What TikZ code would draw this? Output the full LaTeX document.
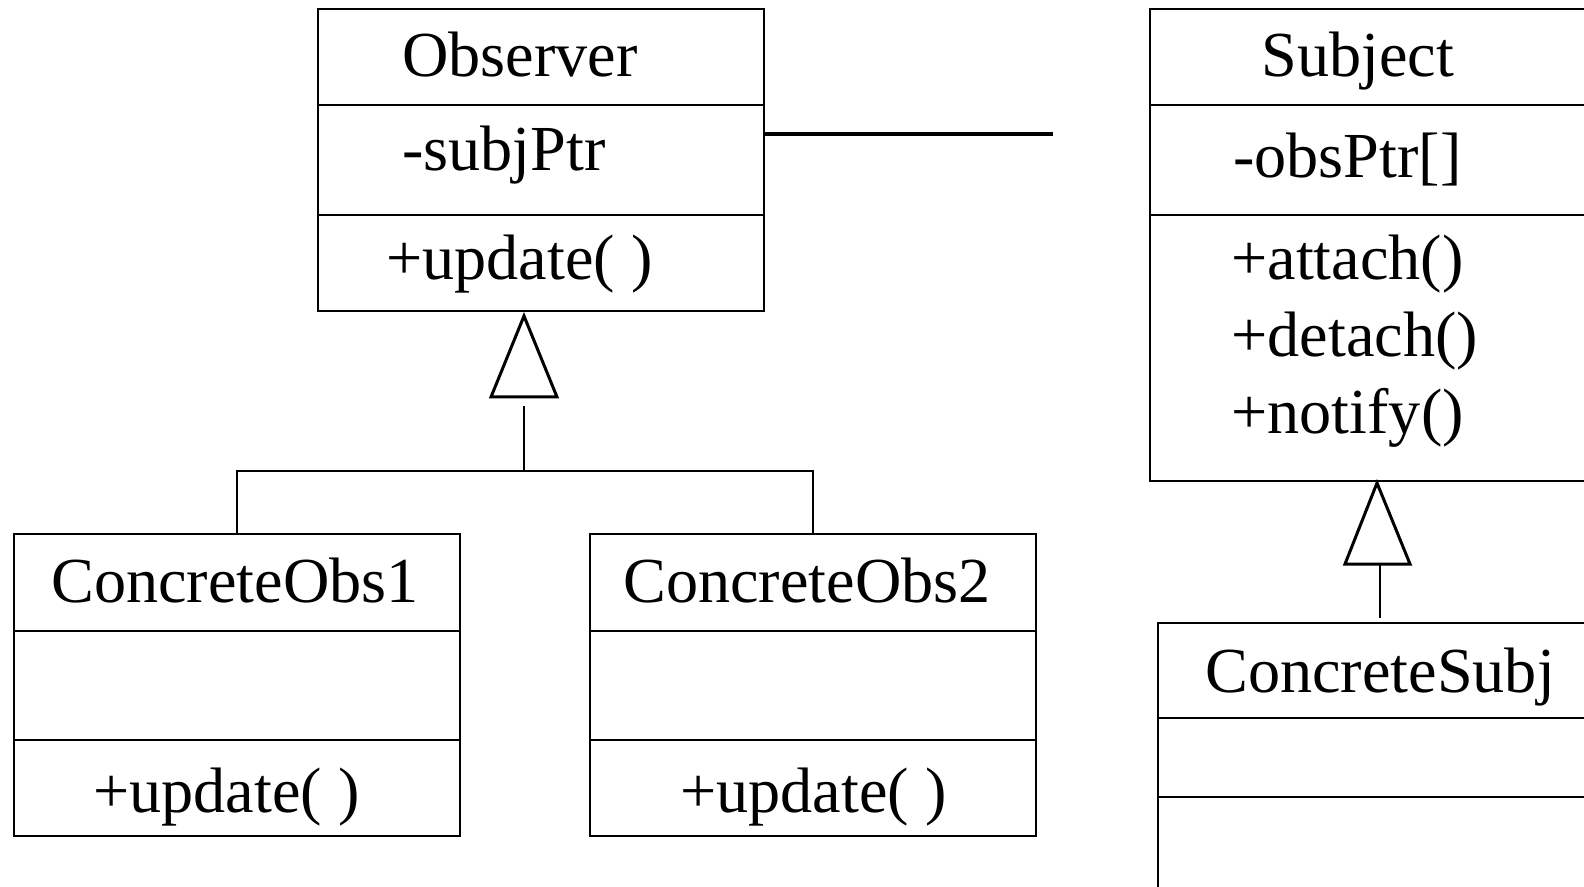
\documentclass[tikz,border=0pt]{standalone}
\usepackage{fontspec}
\setmainfont{Liberation Serif}
\usetikzlibrary{fit}
\tikzset{
  x=0.5pt, y=-0.5pt,
  umlbox/.style={draw, line width=1.4pt, inner sep=0pt},
  divider/.style={line width=1.4pt},
  umltext/.style={anchor=base west, inner sep=0pt, font=\fontsize{32.1}{38}\selectfont},
  link/.style={line width=1.4pt},
  assoc/.style={line width=1.7pt},
  openhead/.style={line width=1.5pt, line join=miter},
}
\begin{document}
\begin{tikzpicture}
\useasboundingbox (0,0) rectangle (1584,887);
\clip (0,0) rectangle (1584,887);

% Observer class
\node[umlbox, fit={(318,9) (764,311)}] (observer) {};
\draw[divider] (318,105) -- (764,105);
\draw[divider] (318,215) -- (764,215);
\node[umltext] (obsTitle) at (402,77) {Observer};
\node[umltext] (obsAttr) at (402,171) {-subjPtr};
\node[umltext] (obsOp) at (386,280) {+update( )};

% ConcreteObs1 class
\node[umlbox, fit={(14,534) (460,836)}] (cobs1) {};
\draw[divider] (14,631) -- (460,631);
\draw[divider] (14,740) -- (460,740);
\node[umltext] (cobs1Title) at (51,602) {ConcreteObs1};
\node[umltext] (cobs1Op) at (93,812) {+update( )};

% ConcreteObs2 class
\node[umlbox, fit={(590,534) (1036,836)}] (cobs2) {};
\draw[divider] (590,631) -- (1036,631);
\draw[divider] (590,740) -- (1036,740);
\node[umltext] (cobs2Title) at (623,602) {ConcreteObs2};
\node[umltext] (cobs2Op) at (680,812) {+update( )};

% Subject class
\node[umlbox, fit={(1150,9) (1610,481)}] (subject) {};
\draw[divider] (1150,105) -- (1610,105);
\draw[divider] (1150,215) -- (1610,215);
\node[umltext] (subjTitle) at (1261,77) {Subject};
\node[umltext] (subjAttr) at (1233,178) {-obsPtr[]};
\node[umltext] (subjOp1) at (1231,280) {+attach()};
\node[umltext] (subjOp2) at (1231,357) {+detach()};
\node[umltext] (subjOp3) at (1231,433) {+notify()};

% ConcreteSubj class
\node[umlbox, fit={(1158,623) (1610,900)}] (csubj) {};
\draw[divider] (1158,718) -- (1610,718);
\draw[divider] (1158,797) -- (1610,797);
\node[umltext] (csubjTitle) at (1205,692) {ConcreteSubj};

% association Observer -- Subject
\coordinate (assocEnd) at (1053,134);
\draw[assoc] (observer.east |- assocEnd) -- (assocEnd);

% generalization of the concrete observers
\coordinate (obsTip) at (524,316);
\coordinate (obsTail) at (524,406);
\coordinate (obsJoin) at (524,471);
\draw[openhead] (obsTip) -- ++(-33,81) -- ++(66,0) -- cycle;
\draw[link] (obsTail) -- (obsJoin);
\draw[link] (cobs1.north) |- (obsJoin) -| (cobs2.north);

% generalization of the concrete subject
\coordinate (subjTip) at (1377,483);
\coordinate (subjBase) at (1380,564);
\coordinate (subjTail) at (1380,618);
\draw[openhead] (subjTip) -- ++(-32,81) -- ++(65,0) -- cycle;
\draw[link] (subjBase) -- (subjTail);
\end{tikzpicture}
\end{document}
